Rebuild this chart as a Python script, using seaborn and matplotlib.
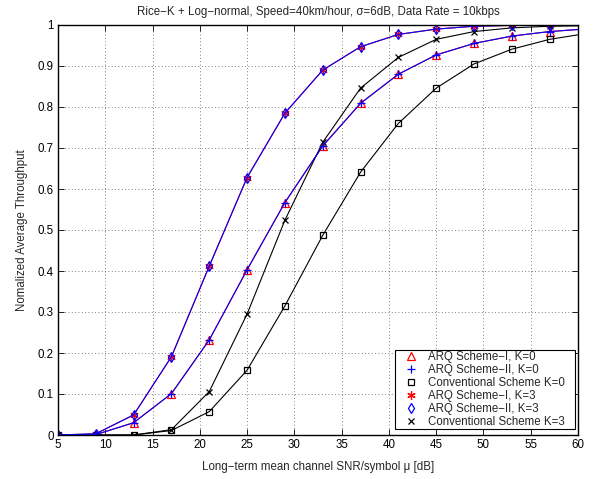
import matplotlib
matplotlib.use("Agg")
import matplotlib.pyplot as plt
from matplotlib.lines import Line2D
import numpy as np
import pandas as pd
import seaborn as sns

# Mean SNR per symbol (dB): markers every 4 dB, curves run to the axis end
snr_db = [5, 9, 13, 17, 21, 25, 29, 33, 37, 41, 45, 49, 53, 57, 60]

# Normalized average throughput, Rice factor K = 0
arq1_k0 = [0.0, 0.001, 0.030, 0.101, 0.232, 0.403, 0.567, 0.705, 0.809, 0.880, 0.927, 0.955, 0.973, 0.984, 0.989]
arq2_k0 = [0.0, 0.001, 0.030, 0.101, 0.232, 0.403, 0.567, 0.705, 0.809, 0.880, 0.927, 0.955, 0.973, 0.984, 0.989]
conv_k0 = [0.0, 0.0, 0.0, 0.011, 0.057, 0.158, 0.315, 0.487, 0.641, 0.760, 0.846, 0.905, 0.941, 0.965, 0.976]

# Normalized average throughput, Rice factor K = 3
arq1_k3 = [0.0, 0.003, 0.049, 0.191, 0.412, 0.628, 0.785, 0.890, 0.947, 0.977, 0.990, 0.997, 0.999, 1.0, 1.0]
arq2_k3 = [0.0, 0.003, 0.049, 0.191, 0.412, 0.628, 0.785, 0.890, 0.947, 0.977, 0.990, 0.997, 0.999, 1.0, 1.0]
conv_k3 = [0.0, 0.0, 0.0, 0.013, 0.106, 0.295, 0.524, 0.714, 0.846, 0.921, 0.965, 0.984, 0.993, 0.997, 0.998]

labels = [
    "ARQ Scheme\u2212I, K=0",
    "ARQ Scheme\u2212II, K=0",
    "Conventional Scheme K=0",
    "ARQ Scheme\u2212I, K=3",
    "ARQ Scheme\u2212II, K=3",
    "Conventional Scheme K=3",
]

FS = 8.3
sns.set_style("white")
plt.rcParams["font.family"] = ["Liberation Sans", "DejaVu Sans"]
plt.rcParams["font.size"] = FS

fig = plt.figure(figsize=(5.96, 4.79), dpi=100)
ax = fig.add_axes([58 / 596, 44 / 479, 520 / 596, 410 / 479])

asterisk = (6, 2, 0)
# (values, colour, marker, size, filled)
styles = [
    (arq1_k0, "red", "^", 6, False),
    (conv_k0, "black", "s", 4.5, False),
    (arq1_k3, "red", asterisk, 6, True),
    (conv_k3, "black", "x", 4.5, True),
    (arq2_k0, "blue", "+", 6, True),
    (arq2_k3, "blue", "d", 5.5, False),
]

marked = slice(0, len(snr_db) - 1)
for values, color, marker, ms, filled in styles:
    df = pd.DataFrame({"snr": snr_db, "thr": values})
    sns.lineplot(data=df, x="snr", y="thr", ax=ax, color=color, lw=0.8,
                 marker=marker, markersize=ms, markeredgewidth=0.9,
                 markevery=marked,
                 markerfacecolor=color if filled else "none",
                 markeredgecolor=color, legend=False)

ax.set_xlim(5, 60)
ax.set_ylim(0, 1)
ax.set_xticks(np.arange(5, 61, 5))
ax.set_xticklabels([str(v) for v in range(5, 61, 5)])
ax.set_yticks(np.round(np.arange(0, 1.01, 0.1), 1))
ax.set_yticklabels(["0", "0.1", "0.2", "0.3", "0.4", "0.5", "0.6", "0.7", "0.8", "0.9", "1"])
ax.grid(True, linestyle=(0, (1, 3)), color="#555555", lw=0.6)
ax.tick_params(direction="in", length=4, width=0.6, colors="black", labelsize=FS, pad=3,
               top=True, right=True, bottom=True, left=True)
for s in ax.spines.values():
    s.set_color("black")
    s.set_linewidth(1.0)

ax.set_xlabel("Long\u2212term mean channel SNR/symbol \u03bc [dB]", fontsize=FS, labelpad=7)
ax.set_ylabel("Nomalized Average Throughput", fontsize=FS, labelpad=7)
ax.set_title("Rice\u2212K + Log\u2212normal, Speed=40km/hour, \u03c3=6dB, Data Rate = 10kbps",
             fontsize=FS, pad=7)

handles = [
    Line2D([], [], ls="none", marker="^", ms=6, mfc="none", mec="red", mew=0.9),
    Line2D([], [], ls="none", marker="+", ms=6, color="blue", mew=0.9),
    Line2D([], [], ls="none", marker="s", ms=4.5, mfc="none", mec="black", mew=0.9),
    Line2D([], [], ls="none", marker=asterisk, ms=6, color="red", mew=0.9),
    Line2D([], [], ls="none", marker="d", ms=5.5, mfc="none", mec="blue", mew=0.9),
    Line2D([], [], ls="none", marker="x", ms=4.5, color="black", mew=0.9),
]
# legend box: left edge at 337 px of the 520 px axis width, 180 px wide
leg = ax.legend(handles, labels, loc="lower left",
                bbox_to_anchor=(337 / 520, 6 / 410, 180 / 520, 81 / 410), mode="expand",
                fontsize=FS, frameon=True, fancybox=False, edgecolor="black",
                framealpha=1, borderpad=0.1, labelspacing=0.09, handletextpad=0.18,
                handlelength=2.6, borderaxespad=0)
leg.get_frame().set_linewidth(0.8)

fig.savefig("out.png", dpi=100)
